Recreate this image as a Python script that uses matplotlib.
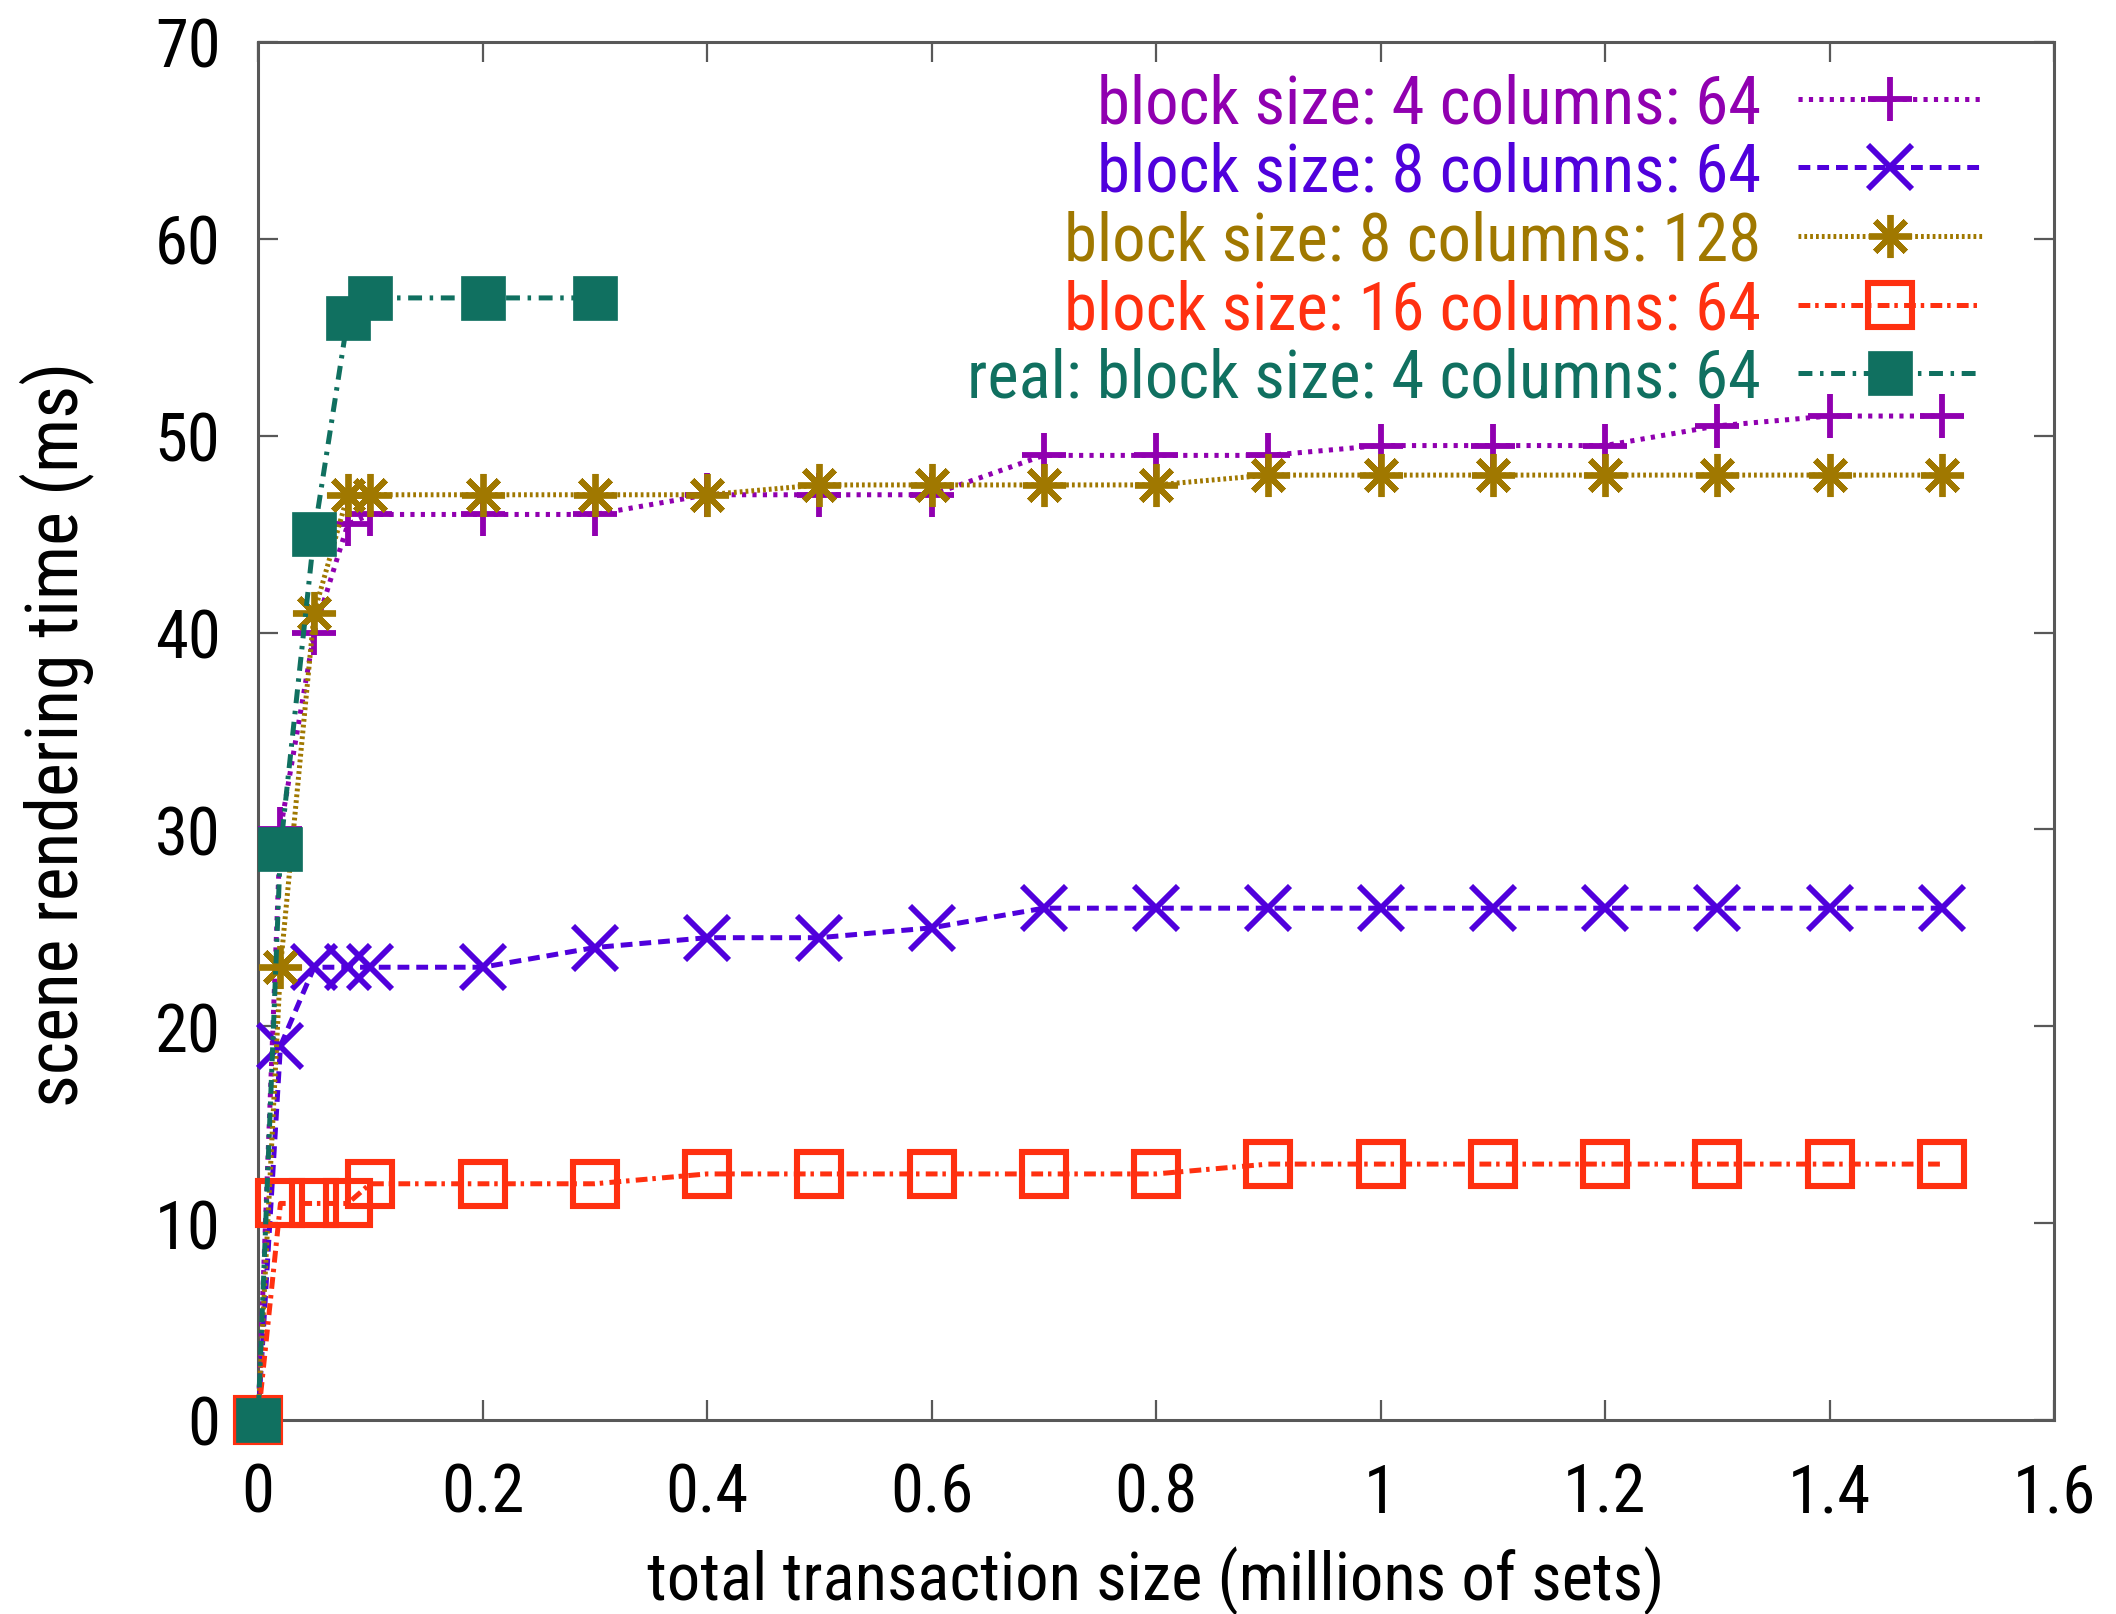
import matplotlib
matplotlib.use("Agg")
import matplotlib.pyplot as plt
from matplotlib import font_manager

# Prefer a condensed sans face when one is available
_available = {f.name for f in font_manager.fontManager.ttflist}
_families = [f for f in ['Roboto Condensed', 'Liberation Sans Narrow',
                         'Arial Narrow', 'Liberation Sans', 'DejaVu Sans']
             if f in _available]
plt.rcParams['font.family'] = _families
plt.rcParams['lines.scale_dashes'] = False

# Total transaction size (millions of sets)
x_sizes = [0, 0.02, 0.05, 0.08, 0.1, 0.2, 0.3, 0.4, 0.5, 0.6, 0.7, 0.8,
           0.9, 1.0, 1.1, 1.2, 1.3, 1.4, 1.5]
x_real = [0, 0.02, 0.05, 0.08, 0.1, 0.2, 0.3]

# Scene rendering time (ms)
bs4_c64 = [0, 30, 40, 45.5, 46, 46, 46, 47, 47, 47, 49, 49, 49, 49.5, 49.5,
           49.5, 50.5, 51, 51]
bs8_c64 = [0, 19, 23, 23, 23, 23, 24, 24.5, 24.5, 25, 26, 26, 26, 26, 26,
           26, 26, 26, 26]
bs8_c128 = [0, 23, 41, 47, 47, 47, 47, 47, 47.5, 47.5, 47.5, 47.5, 48, 48,
            48, 48, 48, 48, 48]
bs16_c64 = [0, 11, 11, 11, 12, 12, 12, 12.5, 12.5, 12.5, 12.5, 12.5, 13, 13,
            13, 13, 13, 13, 13]
real_bs4_c64 = [0, 29, 45, 56, 57, 57, 57]

labels = ["block size: 4 columns: 64",
          "block size: 8 columns: 64",
          "block size: 8 columns: 128",
          "block size: 16 columns: 64",
          "real: block size: 4 columns: 64"]
colors = ["#9000b0", "#5000dc", "#a07800", "#ff3010", "#107060"]

x_ticks = [0, 0.2, 0.4, 0.6, 0.8, 1.0, 1.2, 1.4, 1.6]
x_tick_labels = ["0", "0.2", "0.4", "0.6", "0.8", "1", "1.2", "1.4", "1.6"]
y_ticks = [0, 10, 20, 30, 40, 50, 60, 70]

W, H = 2116, 1615
fig = plt.figure(figsize=(W / 100, H / 100), dpi=100)
ax = fig.add_axes([258 / W, 1 - 1421 / H, (2054 - 258) / W, (1421 - 43) / H])

condensed = _families and _families[0] in ('Roboto Condensed',
                                          'Liberation Sans Narrow',
                                          'Arial Narrow')
FS = 48 if condensed else 44
LW = 3.6
MS = 31
MEW = 4.2

ax.plot(x_sizes, bs4_c64, color=colors[0], lw=LW, dashes=(3, 4.5),
        marker='+', ms=MS, mew=MEW, label=labels[0])
ax.plot(x_sizes, bs8_c64, color=colors[1], lw=LW, dashes=(8.5, 5),
        marker='x', ms=MS, mew=MEW, label=labels[1])
ax.plot(x_sizes, bs8_c128, color=colors[2], lw=LW, dashes=(2, 2.2),
        marker=(8, 2, 0), ms=MS, mew=MEW, label=labels[2])
ax.plot(x_sizes, bs16_c64, color=colors[3], lw=LW, dashes=(8.5, 3.5, 2.5, 4.5),
        marker='s', ms=MS, mew=4.4, mfc='none', label=labels[3])
ax.plot(x_real, real_bs4_c64, color=colors[4], lw=LW, dashes=(10, 5.5, 2.5, 5.5),
        marker='s', ms=MS, mew=0.5, mfc=colors[4], label=labels[4])

ax.set_xlim(0, 1.6)
ax.set_ylim(0, 70)
ax.set_xticks(x_ticks)
ax.set_xticklabels(x_tick_labels)
ax.set_yticks(y_ticks)

for sp in ax.spines.values():
    sp.set_color("#585858")
    sp.set_linewidth(2.2)
    sp.set_zorder(1)
ax.tick_params(axis='both', which='major', direction='in', length=14.5,
               width=1.6, color="#585858", labelsize=FS,
               top=True, right=True)
ax.tick_params(axis='y', pad=27)
ax.tick_params(axis='x', pad=30)

for line in ax.get_lines():
    line.set_clip_on(False)

fs_px = FS * 100 / 72
leg = ax.legend(loc='upper right', bbox_to_anchor=(1982 / W, 1 - 73 / H),
                bbox_transform=fig.transFigure, frameon=False,
                markerfirst=False, labelcolor='linecolor', fontsize=FS,
                handlelength=184 / fs_px, handletextpad=37 / fs_px,
                labelspacing=0.07, borderpad=0, borderaxespad=0, numpoints=1)

fig.text(1156 / W, 1 - 1601 / H, "total transaction size (millions of sets)",
         ha='center', va='baseline', fontsize=FS)
fig.text(57 / W, 1 - 734 / H, "scene rendering time (ms)",
         ha='center', va='center', rotation=90, fontsize=FS * 1.08)

fig.savefig("out.png", dpi=100, facecolor='white')
